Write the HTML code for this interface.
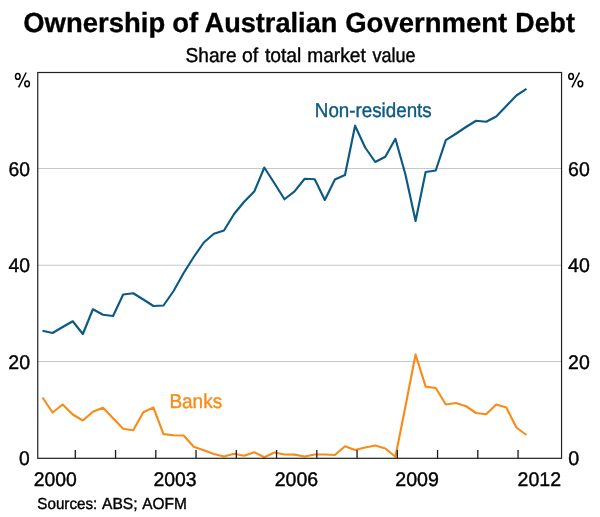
<!DOCTYPE html>
<html><head><meta charset="utf-8"><title>Ownership of Australian Government Debt</title>
<style>html,body{margin:0;padding:0;background:#fff}body{width:600px;height:517px;overflow:hidden;font-family:"Liberation Sans",sans-serif}</style></head>
<body>
<svg width="600" height="517" viewBox="0 0 600 517" style="display:block;will-change:transform;text-rendering:geometricPrecision;font-family:'Liberation Sans',sans-serif">
<rect width="600" height="517" fill="#fff"/>
<line x1="37.75" x2="561.55" y1="168.5" y2="168.5" stroke="#c6c8ca" stroke-width="1.1"/>
<line x1="37.75" x2="561.55" y1="265.3" y2="265.3" stroke="#c6c8ca" stroke-width="1.1"/>
<line x1="37.75" x2="561.55" y1="361.5" y2="361.5" stroke="#c6c8ca" stroke-width="1.1"/>
<polyline fill="none" stroke="#0b5a84" stroke-width="2.15" stroke-linejoin="round" points="42.50,330.75 52.58,333.00 62.67,327.00 72.75,321.25 82.83,334.00 92.91,309.25 103.00,314.75 113.08,316.00 123.16,294.50 133.25,293.25 143.33,299.50 153.41,306.00 163.50,305.50 173.58,291.00 183.66,273.00 193.75,257.00 203.83,242.50 213.91,233.75 223.99,230.50 234.08,214.00 244.16,201.75 254.24,191.60 264.33,167.50 274.41,183.25 284.49,199.25 294.58,191.40 304.66,178.75 314.74,179.25 324.82,200.00 334.91,179.50 344.99,175.00 355.07,125.70 365.16,147.50 375.24,162.00 385.32,156.75 395.41,138.80 405.49,174.70 415.57,221.00 425.65,172.00 435.74,170.50 445.82,140.10 455.90,133.75 465.99,127.00 476.07,120.75 486.15,121.75 496.24,116.50 506.32,106.00 516.40,95.50 526.48,88.95"/>
<polyline fill="none" stroke="#f88c1a" stroke-width="2.15" stroke-linejoin="round" points="42.50,397.50 52.58,412.50 62.67,404.50 72.75,414.50 82.83,420.50 92.91,411.75 103.00,407.75 113.08,418.25 123.16,428.75 133.25,430.25 143.33,412.25 153.41,407.50 163.50,434.10 173.58,435.25 183.66,435.50 193.75,446.75 203.83,450.25 213.91,454.00 223.99,456.50 234.08,453.75 244.16,455.75 254.24,452.25 264.33,457.25 274.41,452.50 284.49,454.50 294.58,454.60 304.66,456.50 314.74,454.50 324.82,454.50 334.91,455.00 344.99,446.25 355.07,450.00 365.16,447.50 375.24,445.50 385.32,448.50 395.41,456.75 405.49,406.25 415.57,354.50 425.65,386.60 435.74,388.00 445.82,404.50 455.90,403.00 465.99,406.25 476.07,413.00 486.15,414.25 496.24,404.50 506.32,407.50 516.40,427.50 526.48,435.00"/>
<line x1="75.30" x2="75.30" y1="450" y2="458.3" stroke="#1a1a1a" stroke-width="1.3"/>
<line x1="115.55" x2="115.55" y1="450" y2="458.3" stroke="#1a1a1a" stroke-width="1.3"/>
<line x1="155.80" x2="155.80" y1="450" y2="458.3" stroke="#1a1a1a" stroke-width="1.3"/>
<line x1="196.05" x2="196.05" y1="450" y2="458.3" stroke="#1a1a1a" stroke-width="1.3"/>
<line x1="236.30" x2="236.30" y1="450" y2="458.3" stroke="#1a1a1a" stroke-width="1.3"/>
<line x1="276.55" x2="276.55" y1="450" y2="458.3" stroke="#1a1a1a" stroke-width="1.3"/>
<line x1="316.80" x2="316.80" y1="450" y2="458.3" stroke="#1a1a1a" stroke-width="1.3"/>
<line x1="357.05" x2="357.05" y1="450" y2="458.3" stroke="#1a1a1a" stroke-width="1.3"/>
<line x1="397.30" x2="397.30" y1="450" y2="458.3" stroke="#1a1a1a" stroke-width="1.3"/>
<line x1="437.55" x2="437.55" y1="450" y2="458.3" stroke="#1a1a1a" stroke-width="1.3"/>
<line x1="477.80" x2="477.80" y1="450" y2="458.3" stroke="#1a1a1a" stroke-width="1.3"/>
<line x1="518.05" x2="518.05" y1="450" y2="458.3" stroke="#1a1a1a" stroke-width="1.3"/>
<rect x="37.75" y="72.5" width="523.80" height="385.80" fill="none" stroke="#202020" stroke-width="1.2"/>
<text transform="translate(23.20,32.1) scale(0.9956,1)" font-size="27.6" font-weight="bold" fill="#000" stroke="#000" stroke-width="0.3">Ownership</text>
<text transform="translate(172.13,32.1) scale(0.9970,1)" font-size="27.6" font-weight="bold" fill="#000" stroke="#000" stroke-width="0.3">of</text>
<text transform="translate(204.51,32.1) scale(0.9844,1)" font-size="27.6" font-weight="bold" fill="#000" stroke="#000" stroke-width="0.3">Australian</text>
<text transform="translate(345.20,32.1) scale(0.9964,1)" font-size="27.6" font-weight="bold" fill="#000" stroke="#000" stroke-width="0.3">Government</text>
<text transform="translate(515.30,32.1) scale(0.9718,1)" font-size="27.6" font-weight="bold" fill="#000" stroke="#000" stroke-width="0.3">Debt</text>
<text transform="translate(185.58,61.8) scale(0.9542,1)" font-size="20.0" font-weight="normal" fill="#000" stroke="#000" stroke-width="0.4">Share</text>
<text transform="translate(241.89,61.8) scale(0.9723,1)" font-size="20.0" font-weight="normal" fill="#000" stroke="#000" stroke-width="0.4">of</text>
<text transform="translate(264.88,61.8) scale(0.9644,1)" font-size="20.0" font-weight="normal" fill="#000" stroke="#000" stroke-width="0.4">total</text>
<text transform="translate(307.22,61.8) scale(0.9583,1)" font-size="20.0" font-weight="normal" fill="#000" stroke="#000" stroke-width="0.4">market</text>
<text transform="translate(372.61,61.8) scale(0.8995,1)" font-size="20.0" font-weight="normal" fill="#000" stroke="#000" stroke-width="0.4">value</text>
<text transform="translate(314.84,117.25) scale(0.9388,1)" font-size="20.0" font-weight="normal" fill="#0b5a84" stroke="#0b5a84" stroke-width="0.4">Non-residents</text>
<text transform="translate(169.38,408.4) scale(0.9492,1)" font-size="20.0" font-weight="normal" fill="#f88c1a" stroke="#f88c1a" stroke-width="0.4">Banks</text>
<text transform="translate(37.33,508.7) scale(0.9483,1)" font-size="16.0" font-weight="normal" fill="#000" stroke="#000" stroke-width="0.4">Sources:</text>
<text transform="translate(102.04,508.7) scale(0.9746,1)" font-size="16.0" font-weight="normal" fill="#000" stroke="#000" stroke-width="0.4">ABS;</text>
<text transform="translate(142.24,508.7) scale(0.9653,1)" font-size="16.0" font-weight="normal" fill="#000" stroke="#000" stroke-width="0.4">AOFM</text>
<text transform="translate(8.57,176.0) scale(0.9745,1)" font-size="19.8" font-weight="normal" fill="#000" stroke="#000" stroke-width="0.4">60</text>
<text transform="translate(568.06,176.0) scale(0.9842,1)" font-size="19.8" font-weight="normal" fill="#000" stroke="#000" stroke-width="0.4">60</text>
<text transform="translate(8.56,272.1) scale(0.9751,1)" font-size="19.8" font-weight="normal" fill="#000" stroke="#000" stroke-width="0.4">40</text>
<text transform="translate(568.05,272.1) scale(0.9846,1)" font-size="19.8" font-weight="normal" fill="#000" stroke="#000" stroke-width="0.4">40</text>
<text transform="translate(8.26,368.95) scale(0.9891,1)" font-size="19.8" font-weight="normal" fill="#000" stroke="#000" stroke-width="0.4">20</text>
<text transform="translate(568.06,368.95) scale(0.9842,1)" font-size="19.8" font-weight="normal" fill="#000" stroke="#000" stroke-width="0.4">20</text>
<text transform="translate(19.09,465.35) scale(0.9744,1)" font-size="19.8" font-weight="normal" fill="#000" stroke="#000" stroke-width="0.4">0</text>
<text transform="translate(568.18,465.35) scale(0.9949,1)" font-size="19.8" font-weight="normal" fill="#000" stroke="#000" stroke-width="0.4">0</text>
<text transform="translate(33.76,485.7) scale(0.9835,1)" font-size="19.7" font-weight="normal" fill="#000" stroke="#000" stroke-width="0.4">2000</text>
<text transform="translate(153.46,485.7) scale(0.9841,1)" font-size="19.7" font-weight="normal" fill="#000" stroke="#000" stroke-width="0.4">2003</text>
<text transform="translate(274.76,485.7) scale(0.9912,1)" font-size="19.7" font-weight="normal" fill="#000" stroke="#000" stroke-width="0.4">2006</text>
<text transform="translate(395.25,485.7) scale(0.9959,1)" font-size="19.7" font-weight="normal" fill="#000" stroke="#000" stroke-width="0.4">2009</text>
<text transform="translate(517.55,485.7) scale(0.9941,1)" font-size="19.7" font-weight="normal" fill="#000" stroke="#000" stroke-width="0.4">2012</text>
<g fill="none" stroke="#000" stroke-width="1.5"><ellipse cx="17.80" cy="76.4" rx="2.3" ry="2.9"/><ellipse cx="27.10" cy="83.85" rx="2.3" ry="2.9"/><line x1="26.20" y1="72.5" x2="18.60" y2="87.3" stroke-width="1.45"/></g>
<g fill="none" stroke="#000" stroke-width="1.5"><ellipse cx="571.10" cy="76.4" rx="2.3" ry="2.9"/><ellipse cx="580.40" cy="83.85" rx="2.3" ry="2.9"/><line x1="579.50" y1="72.5" x2="571.90" y2="87.3" stroke-width="1.45"/></g>
</svg>
</body></html>
